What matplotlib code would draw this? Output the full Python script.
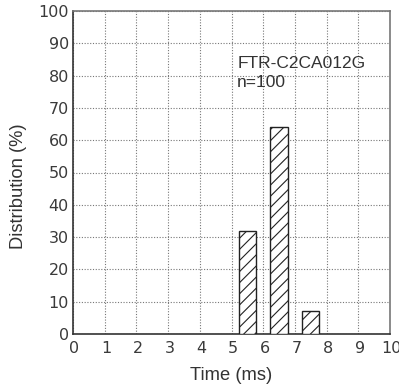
import matplotlib
matplotlib.use("Agg")
import matplotlib.pyplot as plt
from matplotlib.transforms import ScaledTranslation

# data
time_centers = [5.5, 6.5, 7.5]
distribution = [32, 64, 7]
bar_width = 0.55
x_ticks = list(range(0, 11))
y_ticks = list(range(0, 101, 10))
label_model = "FTR-C2CA012G"
label_n = "n=100"

plt.rcParams['hatch.linewidth'] = 0.8
fig = plt.figure(figsize=(3.99, 3.92), dpi=100)
ax = fig.add_axes([73/399, 1-334/392, (390-73)/399, (334-11)/392])

ax.bar(time_centers, distribution, width=bar_width, facecolor='white',
       edgecolor='#222222', linewidth=1.0, hatch='///', zorder=3)

ax.set_xlim(0, 10)
ax.set_ylim(0, 100)
ax.set_xticks(x_ticks)
ax.set_yticks(y_ticks)
ax.grid(True, color='#777777', linestyle=(0, (1, 1.5)), linewidth=0.8, zorder=0)
ax.tick_params(length=0, labelsize=11.5, colors='#3a3a3a')
ax.tick_params(axis='y', pad=3)
ax.tick_params(axis='x', pad=5)
offset = ScaledTranslation(1.5/100, 0, fig.dpi_scale_trans)
for lbl in ax.get_xticklabels():
    lbl.set_transform(lbl.get_transform() + offset)

for side in ['left', 'bottom']:
    ax.spines[side].set_color('#333333')
    ax.spines[side].set_linewidth(1.2)
for side in ['top', 'right']:
    ax.spines[side].set_color('#777777')
    ax.spines[side].set_linewidth(1.2)

ax.set_xlabel('Time (ms)', fontsize=13.2, family='Liberation Sans', color='#333333')
ax.xaxis.set_label_coords(0.5, (334-376)/323)
ax.xaxis.label.set_va('center')
ax.set_ylabel('Distribution (%)', fontsize=13.2, family='Liberation Sans', color='#333333')
ax.yaxis.set_label_coords((19-73)/317, (334-186)/323)
ax.yaxis.label.set_va('center')

ax.text(5.18, 82.3, label_model, fontsize=12.5, family='Liberation Sans', color='#333333', va='baseline')
ax.text(5.18, 76.6, label_n, fontsize=12.5, family='Liberation Sans', color='#333333', va='baseline')

fig.savefig('out.png', dpi=100)
